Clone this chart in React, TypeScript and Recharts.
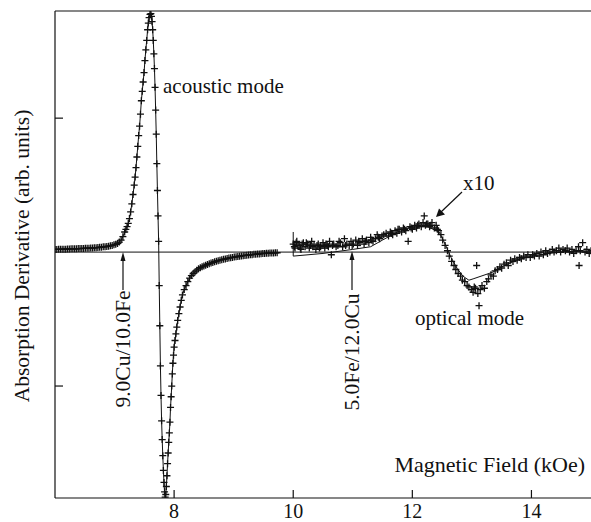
import { ComposedChart, Line, Scatter, XAxis, YAxis, ReferenceLine } from 'recharts';

// field in kOe, signal in arbitrary units (one y tick = 1)
const acousticField = [
  6.0, 6.03, 6.06, 6.09, 6.12, 6.15, 6.18, 6.21, 6.24, 6.27, 6.3, 6.33, 6.36, 6.39, 6.42, 6.45, 6.48, 6.51,
  6.54, 6.57, 6.6, 6.63, 6.66, 6.69, 6.72, 6.75, 6.78, 6.81, 6.84, 6.87, 6.9, 6.93, 6.96, 6.99, 7.02, 7.05,
  7.08, 7.11, 7.14, 7.17, 7.19, 7.21, 7.23, 7.25, 7.27, 7.29, 7.31, 7.33, 7.345, 7.36, 7.375, 7.39, 7.405,
  7.42, 7.435, 7.45, 7.465, 7.48, 7.495, 7.51, 7.525, 7.54, 7.555, 7.567, 7.58, 7.595, 7.61, 7.62, 7.63,
  7.64, 7.65, 7.66, 7.67, 7.68, 7.69, 7.7, 7.71, 7.72, 7.73, 7.74, 7.75, 7.76, 7.77, 7.78, 7.79, 7.8, 7.81,
  7.82, 7.83, 7.84, 7.85, 7.86, 7.87, 7.88, 7.89, 7.9, 7.91, 7.92, 7.93, 7.94, 7.95, 7.96, 7.97, 7.98,
  7.99, 8.0, 8.015, 8.03, 8.045, 8.06, 8.08, 8.1, 8.12, 8.14, 8.17, 8.2, 8.23, 8.26, 8.29, 8.32, 8.35,
  8.38, 8.41, 8.44, 8.47, 8.5, 8.53, 8.56, 8.59, 8.62, 8.65, 8.68, 8.71, 8.74, 8.77, 8.8, 8.83, 8.86,
  8.89, 8.92, 8.95, 8.98, 9.01, 9.04, 9.07, 9.1, 9.13, 9.16, 9.19, 9.22, 9.25, 9.28, 9.31, 9.34, 9.37,
  9.4, 9.43, 9.46, 9.49, 9.52, 9.55, 9.58, 9.61, 9.64, 9.67, 9.7, 9.73,
];
const acousticSignal = [
  0.02, 0.02, 0.021, 0.021, 0.022, 0.022, 0.022, 0.023, 0.023, 0.024, 0.024, 0.025, 0.025, 0.026, 0.026,
  0.027, 0.027, 0.028, 0.029, 0.029, 0.03, 0.031, 0.032, 0.033, 0.034, 0.036, 0.037, 0.039, 0.04, 0.042,
  0.044, 0.047, 0.05, 0.054, 0.058, 0.064, 0.075, 0.09, 0.115, 0.15, 0.17, 0.19, 0.215, 0.25, 0.3, 0.36,
  0.43, 0.5, 0.56, 0.63, 0.71, 0.79, 0.87, 0.94, 1.03, 1.13, 1.2, 1.27, 1.34, 1.43, 1.51, 1.58, 1.66, 1.71,
  1.75, 1.775, 1.78, 1.76, 1.72, 1.66, 1.58, 1.48, 1.37, 1.23, 1.06, 0.88, 0.66, 0.46, 0.27, 0.08, -0.25,
  -0.55, -0.85, -1.07, -1.26, -1.4, -1.52, -1.63, -1.72, -1.79, -1.83, -1.81, -1.75, -1.67, -1.58, -1.5,
  -1.42, -1.35, -1.27, -1.16, -1.08, -1.0, -0.91, -0.83, -0.77, -0.71, -0.66, -0.61, -0.56, -0.51, -0.46,
  -0.41, -0.36, -0.32, -0.28, -0.25, -0.22, -0.195, -0.175, -0.16, -0.148, -0.135, -0.125, -0.117, -0.11,
  -0.104, -0.098, -0.092, -0.087, -0.082, -0.077, -0.072, -0.068, -0.064, -0.06, -0.057, -0.054, -0.051,
  -0.048, -0.045, -0.042, -0.04, -0.037, -0.035, -0.033, -0.031, -0.029, -0.027, -0.025, -0.023, -0.022,
  -0.02, -0.019, -0.017, -0.016, -0.015, -0.014, -0.012, -0.011, -0.01, -0.009, -0.008, -0.007, -0.006,
  -0.006, -0.005, -0.005,
];

// optical mode, measured x10
const opticalField = [
  10.0, 10.02, 10.03, 10.05, 10.06, 10.08, 10.1, 10.12, 10.13, 10.15, 10.17, 10.2, 10.22, 10.24, 10.27,
  10.29, 10.31, 10.33, 10.35, 10.38, 10.4, 10.42, 10.44, 10.46, 10.5, 10.52, 10.53, 10.55, 10.57, 10.59,
  10.61, 10.64, 10.66, 10.68, 10.72, 10.75, 10.77, 10.79, 10.83, 10.86, 10.88, 10.9, 10.94, 10.97, 10.99,
  11.01, 11.05, 11.08, 11.1, 11.12, 11.16, 11.19, 11.21, 11.23, 11.27, 11.3, 11.32, 11.34, 11.38, 11.41,
  11.43, 11.45, 11.49, 11.52, 11.56, 11.6, 11.63, 11.65, 11.67, 11.71, 11.74, 11.76, 11.78, 11.82, 11.85,
  11.87, 11.89, 11.93, 11.96, 11.98, 12.0, 12.04, 12.07, 12.09, 12.11, 12.15, 12.18, 12.2, 12.22, 12.24,
  12.26, 12.29, 12.31, 12.33, 12.37, 12.4, 12.42, 12.44, 12.48, 12.51, 12.55, 12.59, 12.62, 12.66, 12.7,
  12.73, 12.77, 12.81, 12.84, 12.88, 12.92, 12.95, 12.99, 13.02, 13.04, 13.06, 13.08, 13.1, 13.12, 13.14,
  13.17, 13.21, 13.25, 13.28, 13.32, 13.36, 13.39, 13.43, 13.47, 13.5, 13.54, 13.58, 13.61, 13.65, 13.69,
  13.72, 13.76, 13.8, 13.83, 13.87, 13.91, 13.94, 13.98, 14.02, 14.05, 14.09, 14.13, 14.16, 14.2, 14.24,
  14.27, 14.31, 14.35, 14.38, 14.42, 14.46, 14.49, 14.53, 14.57, 14.6, 14.64, 14.68, 14.71, 14.75, 14.79,
  14.8, 14.82, 14.86, 14.9, 14.93, 14.97, 15.0,
];
const opticalSignal = [
  0.06, 0.04, 0.03, 0.07, 0.08, 0.05, 0.05, 0.03, 0.02, 0.06, 0.07, 0.04, 0.07, 0.06, 0.03, 0.05, 0.08,
  0.04, 0.05, 0.02, 0.05, 0.06, 0.03, 0.04, 0.07, 0.05, 0.03, 0.06, 0.05, 0.04, 0.08, -0.02, 0.05, 0.06,
  0.04, 0.05, 0.08, 0.07, 0.04, 0.1, 0.05, 0.06, 0.05, 0.08, 0.05, 0.06, 0.09, 0.05, 0.08, 0.07, 0.1,
  0.06, 0.08, 0.09, 0.07, 0.11, 0.09, 0.08, 0.1, 0.13, 0.11, 0.1, 0.12, 0.13, 0.14, 0.12, 0.15, 0.14, 0.13,
  0.16, 0.14, 0.17, 0.17, 0.15, 0.18, 0.17, 0.16, 0.08, 0.19, 0.18, 0.17, 0.2, 0.18, 0.2, 0.21, 0.19, 0.22,
  0.27, 0.2, 0.21, 0.21, 0.19, 0.2, 0.22, 0.18, 0.2, 0.17, 0.16, 0.13, 0.09, 0.05, 0.01, -0.03, -0.07,
  -0.1, -0.13, -0.16, -0.18, -0.21, -0.22, -0.25, -0.26, -0.28, -0.3, -0.26, -0.27, -0.1, -0.31, -0.4,
  -0.28, -0.25, -0.27, -0.22, -0.2, -0.17, -0.18, -0.14, -0.13, -0.11, -0.12, -0.09, -0.08, -0.1, -0.06,
  -0.07, -0.05, -0.06, -0.04, -0.05, -0.03, -0.04, -0.02, -0.04, -0.02, -0.03, -0.01, -0.03, 0.0, -0.02,
  0.01, -0.01, 0.0, 0.02, 0.0, 0.01, 0.03, 0.0, 0.02, 0.01, 0.03, 0.0, 0.02, -0.01, 0.01, 0.04, -0.1,
  0.01, 0.07, 0.0, 0.02, -0.01, 0.01,
];

const opticalFitField = [
  10.0, 10.0, 10.5, 11.0, 11.3, 11.5, 11.75, 12.0, 12.25, 12.45, 12.55, 12.65, 12.75, 12.85, 12.95, 13.02,
  13.35, 13.5, 13.75, 14.0, 14.3, 14.6, 15.0,
];
const opticalFitSignal = [
  0.15, -0.03, -0.01, 0.02, 0.04, 0.09, 0.15, 0.19, 0.19, 0.15, 0.06, -0.04, -0.12, -0.18, -0.21, -0.2,
  -0.15, -0.11, -0.06, -0.03, -0.01, 0.005, 0.0,
];

const fieldTicks = [8, 10, 12, 14];
const signalTicks = [-1, 1];

const zip = (fs: number[], vs: number[]) => fs.map((f, i) => ({ f, v: vs[i] }));
const acoustic = zip(acousticField, acousticSignal);
const optical = zip(opticalField, opticalSignal);
const opticalFit = zip(opticalFitField, opticalFitSignal);

const INK = '#111';
const SERIF = "'Liberation Serif', 'Times New Roman', Times, serif";
const serif = { fontFamily: SERIF };

const Plus = (props: any) => {
  const { cx, cy } = props;
  if (cx == null || cy == null) return null;
  return (
    <path
      d={`M${cx - 3.5},${cy}H${cx + 3.5}M${cx},${cy - 3.5}V${cy + 3.5}`}
      stroke={INK}
      strokeWidth={1.3}
      fill="none"
    />
  );
};

const BottomTick = ({ x, y, payload }: any) => (
  <g>
    <line x1={x} y1={y} x2={x} y2={y - 8} stroke={INK} strokeWidth={1.2} />
    <text x={x} y={y + 20} textAnchor="middle" fontSize={20} style={serif} fill={INK}>
      {payload.value}
    </text>
  </g>
);

const TopTick = ({ x, y }: any) => (
  <line x1={x} y1={y} x2={x} y2={y + 8} stroke={INK} strokeWidth={1.2} />
);

const LeftTick = ({ x, y }: any) => (
  <line x1={x} y1={y} x2={x + 8} y2={y} stroke={INK} strokeWidth={1.2} />
);

export default function App() {
  return (
    <div style={{ position: 'absolute', left: 0, top: 0, width: 591, height: 522, background: '#fff' }}>
      <ComposedChart width={591} height={522} margin={{ top: 0, right: 0, bottom: 0, left: 0 }}>
        <XAxis
          dataKey="f"
          type="number"
          domain={[6, 15]}
          ticks={fieldTicks}
          interval={0}
          allowDataOverflow
          height={24}
          tickSize={0}
          tickMargin={0}
          tick={<BottomTick />}
          axisLine={{ stroke: INK, strokeWidth: 1.2 }}
        />
        <XAxis
          xAxisId="top"
          orientation="top"
          type="number"
          domain={[6, 15]}
          ticks={fieldTicks}
          interval={0}
          allowDataOverflow
          height={11}
          tickSize={0}
          tickMargin={0}
          tick={<TopTick />}
          axisLine={{ stroke: INK, strokeWidth: 1.2 }}
        />
        <YAxis
          dataKey="v"
          type="number"
          domain={[-1.836, 1.8]}
          ticks={signalTicks}
          interval={0}
          allowDataOverflow
          width={55}
          tickSize={0}
          tickMargin={0}
          tick={<LeftTick />}
          axisLine={{ stroke: INK, strokeWidth: 1.2 }}
        />
        <ReferenceLine y={0} stroke={INK} strokeWidth={1} />
        <Line
          data={acoustic}
          dataKey="v"
          type="linear"
          stroke={INK}
          strokeWidth={1}
          dot={false}
          activeDot={false}
          isAnimationActive={false}
        />
        <Line
          data={opticalFit}
          dataKey="v"
          type="linear"
          stroke={INK}
          strokeWidth={1}
          dot={false}
          activeDot={false}
          isAnimationActive={false}
        />
        <Scatter data={acoustic} dataKey="v" shape={<Plus />} isAnimationActive={false} />
        <Scatter data={optical} dataKey="v" shape={<Plus />} isAnimationActive={false} />
      </ComposedChart>

      <svg
        width={591}
        height={522}
        style={{ position: 'absolute', left: 0, top: 0, pointerEvents: 'none', fontFamily: SERIF }}
        fill={INK}
      >
        <text x={22} y={256} fontSize={21.5} textAnchor="middle" dominantBaseline="central" transform="rotate(-90 22 256)">
          Absorption Derivative (arb. units)
        </text>
        <text x={163} y={93} fontSize={21}>acoustic mode</text>
        <text x={415} y={325} fontSize={21}>optical mode</text>
        <text x={463} y={190} fontSize={21}>x10</text>
        <text x={585} y={472} fontSize={22} textAnchor="end">Magnetic Field (kOe)</text>

        <text x={123} y={349} fontSize={21.5} textAnchor="middle" dominantBaseline="central" transform="rotate(-90 123 349)">
          9.0Cu/10.0Fe
        </text>
        <line x1={123} y1={290} x2={123} y2={258} stroke={INK} strokeWidth={1.2} />
        <polygon points="123,252 120.5,261 125.5,261" />

        <text x={352} y={352} fontSize={21.5} textAnchor="middle" dominantBaseline="central" transform="rotate(-90 352 352)">
          5.0Fe/12.0Cu
        </text>
        <line x1={352} y1={290} x2={352} y2={257} stroke={INK} strokeWidth={1.2} />
        <polygon points="352,251 349.5,260 354.5,260" />

        <line x1={462} y1={192} x2={441} y2={212} stroke={INK} strokeWidth={1.2} />
        <polygon points="436,217 439,208.5 445,214.5" />
      </svg>
    </div>
  );
}
